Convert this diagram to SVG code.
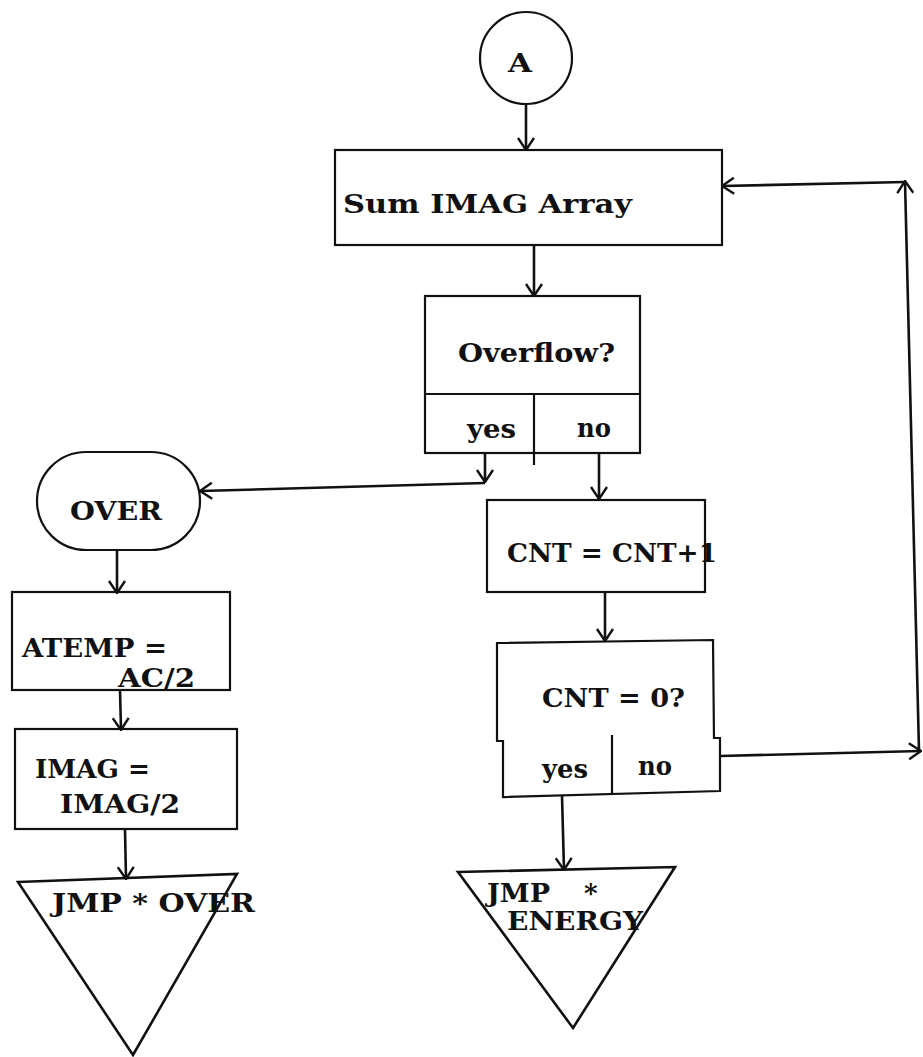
<svg xmlns="http://www.w3.org/2000/svg" width="923" height="1057" viewBox="0 0 923 1057">
<defs>
<style>
.box{fill:none;stroke:#111;stroke-width:2.2}
.ln{fill:none;stroke:#111;stroke-width:2.6}
.t{font-family:"DejaVu Serif","Liberation Serif",serif;font-weight:bold;font-size:26px;fill:#111}
</style>
<marker id="ah" viewBox="0 0 14 18" refX="13" refY="9" markerWidth="14" markerHeight="18" markerUnits="userSpaceOnUse" orient="auto">
<path d="M1,1 L13,9 L1,17" fill="none" stroke="#111" stroke-width="2.4"/>
</marker>
</defs>
<rect width="923" height="1057" fill="#fff"/>

<g id="nodeA">
<circle class="box" cx="526" cy="58" r="46"/>
<text class="t" x="508" y="72" textLength="24" lengthAdjust="spacingAndGlyphs">A</text>
</g>

<g id="sumImag">
<rect class="box" x="335" y="150" width="387" height="95"/>
<text class="t" x="343" y="213" textLength="289" lengthAdjust="spacingAndGlyphs">Sum IMAG Array</text>
</g>

<g id="overflow">
<rect class="box" x="425" y="296" width="215" height="157"/>
<line class="box" x1="425" y1="394" x2="640" y2="394"/>
<line class="box" x1="534" y1="394" x2="534" y2="465"/>
<text class="t" x="458" y="362" textLength="157" lengthAdjust="spacingAndGlyphs">Overflow?</text>
<text class="t" x="467" y="438" textLength="49" lengthAdjust="spacingAndGlyphs">yes</text>
<text class="t" x="577" y="437" textLength="34" lengthAdjust="spacingAndGlyphs">no</text>
</g>

<g id="cntInc">
<rect class="box" x="487" y="500" width="218" height="92"/>
<text class="t" x="507" y="562" textLength="210" lengthAdjust="spacingAndGlyphs">CNT = CNT+1</text>
</g>

<g id="cntZero">
<path class="box" d="M497,643 L713,640 L714,738 L720,738 L720,791 L503,797 L503,741 L497,741 Z"/>
<line class="box" x1="612" y1="735" x2="612" y2="795"/>
<text class="t" x="542" y="707" textLength="143" lengthAdjust="spacingAndGlyphs">CNT = 0?</text>
<text class="t" x="542" y="778" textLength="46" lengthAdjust="spacingAndGlyphs">yes</text>
<text class="t" x="638" y="775" textLength="34" lengthAdjust="spacingAndGlyphs">no</text>
</g>

<g id="overTerm">
<rect class="box" x="37" y="452" width="163" height="98" rx="49" ry="49"/>
<text class="t" x="70" y="520" textLength="92" lengthAdjust="spacingAndGlyphs">OVER</text>
</g>

<g id="atemp">
<rect class="box" x="12" y="592" width="218" height="98"/>
<text class="t" x="22" y="657" textLength="145" lengthAdjust="spacingAndGlyphs">ATEMP =</text>
<text class="t" x="118" y="687" textLength="77" lengthAdjust="spacingAndGlyphs">AC/2</text>
</g>

<g id="imag">
<rect class="box" x="15" y="729" width="222" height="100"/>
<text class="t" x="35" y="778" textLength="115" lengthAdjust="spacingAndGlyphs">IMAG =</text>
<text class="t" x="60" y="813" textLength="120" lengthAdjust="spacingAndGlyphs">IMAG/2</text>
</g>

<g id="jmpOver">
<path class="ln" d="M18,882 L237,874 L133,1055 Z"/>
<text class="t" x="52" y="912" textLength="203" lengthAdjust="spacingAndGlyphs">JMP * OVER</text>
</g>

<g id="jmpEnergy">
<path class="ln" d="M458,872 L675,867 L573,1028 Z"/>
<text class="t" x="487" y="902" textLength="63" lengthAdjust="spacingAndGlyphs">JMP</text>
<text class="t" x="584" y="902">*</text>
<text class="t" x="507" y="930" textLength="136" lengthAdjust="spacingAndGlyphs">ENERGY</text>
</g>

<g id="connectors">
<line class="ln" x1="526" y1="104" x2="526" y2="150" marker-end="url(#ah)"/>
<line class="ln" x1="534" y1="245" x2="534" y2="296" marker-end="url(#ah)"/>
<line class="ln" x1="485" y1="453" x2="485" y2="482" marker-end="url(#ah)"/>
<line class="ln" x1="485" y1="483" x2="200" y2="491" marker-end="url(#ah)"/>
<line class="ln" x1="599" y1="453" x2="599" y2="499" marker-end="url(#ah)"/>
<line class="ln" x1="605" y1="592" x2="605" y2="641" marker-end="url(#ah)"/>
<line class="ln" x1="562" y1="796" x2="564" y2="870" marker-end="url(#ah)"/>
<line class="ln" x1="720" y1="756" x2="921" y2="751" marker-end="url(#ah)"/>
<line class="ln" x1="919" y1="751" x2="905" y2="181" marker-end="url(#ah)"/>
<line class="ln" x1="905" y1="182" x2="722" y2="186" marker-end="url(#ah)"/>
<line class="ln" x1="117" y1="550" x2="117" y2="593" marker-end="url(#ah)"/>
<line class="ln" x1="120" y1="690" x2="121" y2="730" marker-end="url(#ah)"/>
<line class="ln" x1="125" y1="829" x2="126" y2="879" marker-end="url(#ah)"/>
</g>
</svg>
